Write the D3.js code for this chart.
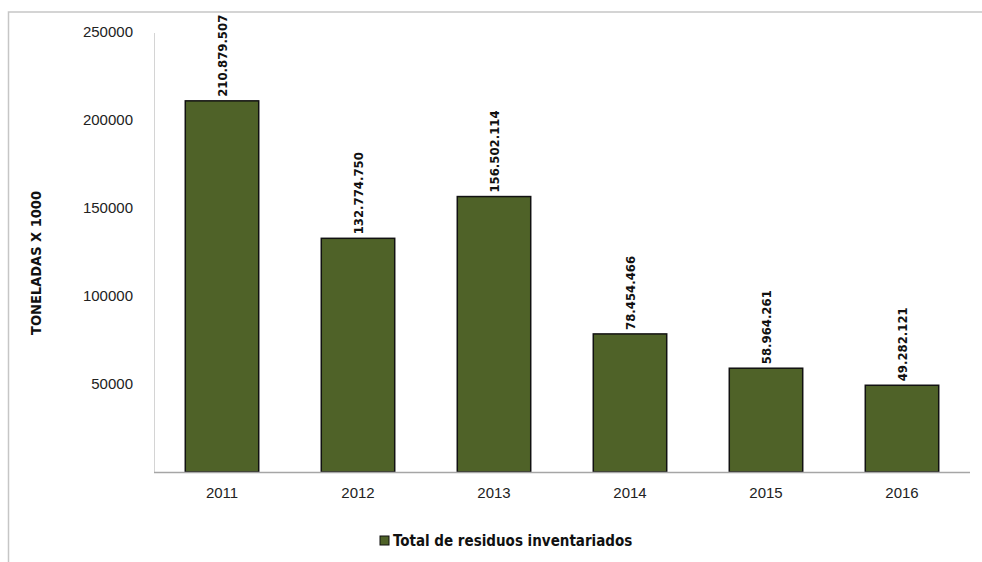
<!DOCTYPE html>
<html>
<head>
<meta charset="utf-8">
<script src="https://cdn.jsdelivr.net/npm/d3@7"></script>
<style>
  body { margin: 0; background: #fff; }
</style>
</head>
<body>
<script>
var years = ['2011', '2012', '2013', '2014', '2015', '2016'];
var values = [210879.507, 132774.750, 156502.114, 78454.466, 58964.261, 49282.121];
var valueLabels = ['210.879.507', '132.774.750', '156.502.114', '78.454.466', '58.964.261', '49.282.121'];
var yTicks = [50000, 100000, 150000, 200000, 250000];

var svg = d3.select('body').append('svg')
    .attr('width', 982)
    .attr('height', 562);

// outer frame (right and bottom fall outside the picture)
svg.append('rect')
    .attr('x', 8.5)
    .attr('y', 12)
    .attr('width', 1000)
    .attr('height', 600)
    .attr('fill', 'none')
    .attr('stroke', '#c6c6c6')
    .attr('stroke-width', 1.5);

var x = d3.scaleBand()
    .domain(years)
    .range([154, 970])
    .paddingInner(0.46)
    .paddingOuter(0.23);

var y = d3.scaleLinear()
    .domain([0, 250000])
    .range([472, 32]);

// y axis line
svg.append('line')
    .attr('x1', 154.5)
    .attr('x2', 154.5)
    .attr('y1', 33)
    .attr('y2', 472)
    .attr('stroke', '#d4d4d4')
    .attr('stroke-width', 1);

var yAxis = svg.append('g')
    .attr('transform', 'translate(133,0)')
    .call(d3.axisLeft(y).tickValues(yTicks).tickFormat(d3.format('d')).tickSize(0).tickPadding(0));
yAxis.select('.domain').remove();
yAxis.selectAll('text')
    .attr('font-family', 'Liberation Sans, Arial, sans-serif')
    .attr('font-size', 15)
    .attr('fill', '#222')
    .attr('text-anchor', 'end');

// bars
svg.selectAll('rect.bar')
    .data(values)
    .enter().append('rect')
    .attr('class', 'bar')
    .attr('x', function(d, i) { return x(years[i]); })
    .attr('y', function(d) { return y(d); })
    .attr('width', x.bandwidth())
    .attr('height', function(d) { return y(0) - y(d); })
    .attr('fill', '#4f6228')
    .attr('stroke', '#111')
    .attr('stroke-width', 1.5);

// baseline
svg.append('line')
    .attr('x1', 154)
    .attr('x2', 970)
    .attr('y1', 472.5)
    .attr('y2', 472.5)
    .attr('stroke', '#a6a6a6')
    .attr('stroke-width', 1.5);

// value labels
svg.selectAll('text.val')
    .data(values)
    .enter().append('text')
    .attr('class', 'val')
    .attr('transform', function(d, i) {
        return 'translate(' + (x(years[i]) + x.bandwidth() / 2 + 5) + ',' + (y(d) - 4) + ') rotate(-90)';
    })
    .attr('font-family', 'DejaVu Sans Condensed, DejaVu Sans, sans-serif')
    .attr('font-stretch', 'condensed')
    .attr('font-weight', 'bold')
    .attr('font-size', 13)
    .attr('fill', '#111')
    .text(function(d, i) { return valueLabels[i]; });

// x axis labels
var xAxis = svg.append('g')
    .attr('transform', 'translate(0,483)')
    .call(d3.axisBottom(x).tickSize(0).tickPadding(0));
xAxis.select('.domain').remove();
xAxis.selectAll('text')
    .attr('font-family', 'Liberation Sans, Arial, sans-serif')
    .attr('font-size', 15)
    .attr('fill', '#222')
    .attr('dy', '1em');

// y title
svg.append('text')
    .attr('transform', 'translate(41,263) rotate(-90)')
    .attr('text-anchor', 'middle')
    .attr('font-family', 'DejaVu Sans Condensed, DejaVu Sans, sans-serif')
    .attr('font-stretch', 'condensed')
    .attr('font-weight', 'bold')
    .attr('font-size', 14.5)
    .attr('fill', '#111')
    .text('TONELADAS X 1000');

// legend
svg.append('rect')
    .attr('x', 380)
    .attr('y', 536)
    .attr('width', 9)
    .attr('height', 9)
    .attr('fill', '#4f6228')
    .attr('stroke', '#111')
    .attr('stroke-width', 1);

svg.append('text')
    .attr('x', 393)
    .attr('y', 546)
    .attr('font-family', 'DejaVu Sans Condensed, DejaVu Sans, sans-serif')
    .attr('font-stretch', 'condensed')
    .attr('font-weight', 'bold')
    .attr('font-size', 15)
    .attr('fill', '#111')
    .text('Total de residuos inventariados');
</script>
</body>
</html>
